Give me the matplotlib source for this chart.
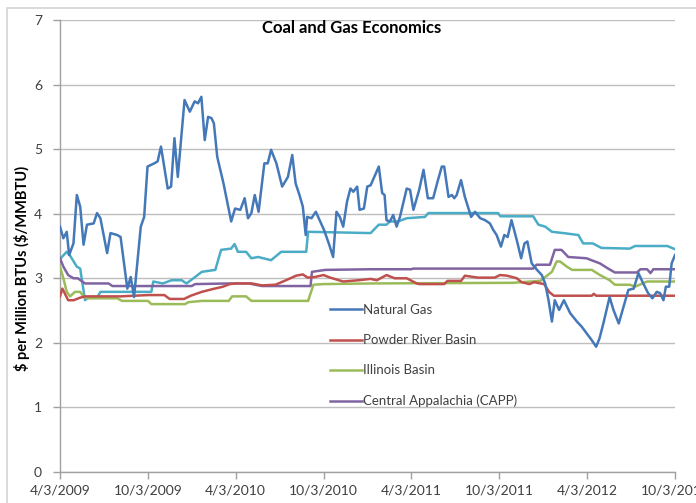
import matplotlib
matplotlib.use("Agg")
import matplotlib.pyplot as plt
import pandas as pd
from matplotlib.patches import Rectangle
from matplotlib.lines import Line2D

# ---------------- data ----------------
ng_dates = ["2009-04-03", "2009-04-10", "2009-04-17", "2009-04-22", "2009-05-01", "2009-05-08",
            "2009-05-15", "2009-05-22", "2009-05-29", "2009-06-12", "2009-06-19", "2009-06-26",
            "2009-07-10", "2009-07-17", "2009-07-31", "2009-08-07", "2009-08-21", "2009-08-28",
            "2009-09-04", "2009-09-18", "2009-09-25", "2009-10-02", "2009-10-16", "2009-10-23",
            "2009-10-30", "2009-11-13", "2009-11-20", "2009-11-27", "2009-12-04", "2009-12-18",
            "2009-12-29", "2010-01-08", "2010-01-15", "2010-01-22", "2010-01-29", "2010-02-05",
            "2010-02-12", "2010-02-17", "2010-02-24", "2010-03-09", "2010-03-25", "2010-04-02",
            "2010-04-13", "2010-04-22", "2010-04-29", "2010-05-06", "2010-05-13", "2010-05-21",
            "2010-06-02", "2010-06-09", "2010-06-16", "2010-06-27", "2010-07-09", "2010-07-21",
            "2010-07-30", "2010-08-06", "2010-08-14", "2010-08-21", "2010-08-27", "2010-08-30",
            "2010-09-08", "2010-09-17", "2010-10-04", "2010-10-14", "2010-10-23", "2010-10-30",
            "2010-11-06", "2010-11-13", "2010-11-21", "2010-11-28", "2010-12-04", "2010-12-12",
            "2010-12-17", "2010-12-26", "2011-01-02", "2011-01-09", "2011-01-26", "2011-02-02",
            "2011-02-07", "2011-02-11", "2011-02-18", "2011-02-25", "2011-03-04", "2011-03-11",
            "2011-03-25", "2011-04-01", "2011-04-08", "2011-04-20", "2011-04-29", "2011-05-08",
            "2011-05-19", "2011-05-29", "2011-06-06", "2011-06-11", "2011-06-20", "2011-06-27",
            "2011-07-02", "2011-07-07", "2011-07-16", "2011-07-24", "2011-08-06", "2011-08-14",
            "2011-08-25", "2011-09-04", "2011-09-14", "2011-09-21", "2011-09-28", "2011-10-07",
            "2011-10-14", "2011-10-21", "2011-10-29", "2011-11-09", "2011-11-18", "2011-11-25",
            "2011-12-01", "2011-12-10", "2011-12-21", "2011-12-31", "2012-01-07", "2012-01-14",
            "2012-01-21", "2012-01-27", "2012-02-05", "2012-02-15", "2012-02-28", "2012-03-13",
            "2012-03-23", "2012-04-02", "2012-04-13", "2012-04-22", "2012-04-29", "2012-05-07",
            "2012-05-20", "2012-05-28", "2012-06-08", "2012-06-18", "2012-06-28", "2012-07-09",
            "2012-07-19", "2012-07-27", "2012-08-08", "2012-08-17", "2012-08-26", "2012-09-02",
            "2012-09-09", "2012-09-14", "2012-09-21", "2012-09-26", "2012-10-03"]
ng_vals = [3.80, 3.62, 3.72, 3.36, 3.54, 4.29,
           4.11, 3.52, 3.83, 3.85, 4.01, 3.93,
           3.39, 3.70, 3.67, 3.64, 2.84, 3.02,
           2.71, 3.80, 3.95, 4.73, 4.78, 4.81,
           5.04, 4.39, 4.42, 5.17, 4.57, 5.76,
           5.58, 5.74, 5.71, 5.81, 5.14, 5.50,
           5.48, 5.40, 4.88, 4.47, 3.88, 4.08,
           4.06, 4.24, 3.93, 4.01, 4.29, 4.03,
           4.78, 4.78, 4.99, 4.78, 4.42, 4.57,
           4.91, 4.47, 4.29, 4.11, 3.67, 3.95,
           3.93, 4.03, 3.75, 3.54, 3.33, 4.03,
           3.95, 3.80, 4.19, 4.39, 4.34, 4.42,
           4.06, 4.08, 4.42, 4.44, 4.73, 4.32,
           4.29, 3.90, 3.88, 3.98, 3.80, 3.95,
           4.39, 4.37, 4.06, 4.37, 4.68, 4.24,
           4.24, 4.52, 4.73, 4.73, 4.26, 4.29,
           4.24, 4.29, 4.52, 4.26, 3.95, 4.03,
           3.93, 3.90, 3.85, 3.75, 3.67, 3.49,
           3.67, 3.64, 3.90, 3.59, 3.31, 3.54,
           3.57, 3.23, 3.13, 3.05, 2.92, 2.66,
           2.33, 2.66, 2.51, 2.66, 2.46, 2.33,
           2.25, 2.15, 2.04, 1.94, 2.07, 2.30,
           2.71, 2.51, 2.30, 2.56, 2.82, 2.84,
           3.08, 2.95, 2.77, 2.69, 2.79, 2.77,
           2.66, 2.87, 2.87, 3.23, 3.36]

prb_dates = ["2009-04-03", "2009-04-08", "2009-04-20", "2009-05-01", "2009-05-15", "2009-05-25",
             "2009-08-07", "2009-10-03", "2009-11-06", "2009-11-17", "2009-12-17", "2009-12-31",
             "2010-01-23", "2010-02-13", "2010-03-08", "2010-03-22", "2010-04-04", "2010-05-07",
             "2010-05-28", "2010-06-25", "2010-07-17", "2010-08-07", "2010-08-21", "2010-08-31",
             "2010-09-15", "2010-10-03", "2010-10-17", "2010-11-13", "2010-12-15", "2011-01-09",
             "2011-01-22", "2011-02-11", "2011-02-28", "2011-03-25", "2011-04-15", "2011-04-20",
             "2011-06-11", "2011-06-18", "2011-07-16", "2011-07-24", "2011-08-20", "2011-09-24",
             "2011-10-05", "2011-10-20", "2011-11-09", "2011-11-19", "2011-12-05", "2011-12-15",
             "2012-01-05", "2012-01-15", "2012-01-25", "2012-04-13", "2012-04-17", "2012-04-22",
             "2012-10-03"]
prb_vals = [2.72, 2.84, 2.66, 2.66, 2.70, 2.72,
            2.72, 2.74, 2.74, 2.68, 2.68, 2.73,
            2.79, 2.83, 2.87, 2.91, 2.92, 2.92,
            2.89, 2.90, 2.97, 3.04, 3.06, 3.01,
            3.02, 3.05, 3.01, 2.95, 2.97, 2.99,
            2.97, 3.05, 3.00, 3.00, 2.92, 2.91,
            2.91, 2.96, 2.96, 3.04, 3.01, 3.01,
            3.05, 3.04, 3.00, 2.94, 2.91, 2.94,
            2.91, 2.79, 2.73, 2.73, 2.76, 2.73,
            2.73]

ib_dates = ["2009-04-03", "2009-04-10", "2009-04-17", "2009-04-24", "2009-05-04", "2009-05-15",
            "2009-05-22", "2009-05-29", "2009-07-31", "2009-08-10", "2009-10-03", "2009-10-10",
            "2009-12-19", "2009-12-26", "2010-01-23", "2010-03-20", "2010-03-27", "2010-04-25",
            "2010-05-06", "2010-09-01", "2010-09-12", "2010-10-03", "2011-01-09", "2011-11-01",
            "2011-12-28", "2012-01-21", "2012-01-31", "2012-02-07", "2012-02-21", "2012-03-03",
            "2012-04-13", "2012-04-30", "2012-05-20", "2012-05-31", "2012-07-01", "2012-07-12",
            "2012-08-06", "2012-10-03"]
ib_vals = [3.18, 3.00, 2.79, 2.72, 2.79, 2.79,
           2.72, 2.69, 2.69, 2.65, 2.65, 2.60,
           2.60, 2.63, 2.65, 2.65, 2.72, 2.72,
           2.65, 2.65, 2.90, 2.91, 2.92, 2.93,
           2.96, 3.10, 3.26, 3.26, 3.18, 3.13,
           3.13, 3.05, 2.97, 2.90, 2.90, 2.87,
           2.95, 2.95]

capp_dates = ["2009-04-03", "2009-04-10", "2009-04-20", "2009-05-01", "2009-05-10", "2009-05-25",
              "2009-07-13", "2009-07-21", "2010-01-02", "2010-01-09", "2010-03-20", "2010-05-01",
              "2010-05-28", "2010-09-06", "2010-09-09", "2010-10-07", "2011-01-09", "2011-04-04",
              "2011-04-07", "2011-12-13", "2011-12-20", "2012-01-17", "2012-01-27", "2012-02-10",
              "2012-02-24", "2012-04-02", "2012-04-30", "2012-05-17", "2012-05-31", "2012-07-16",
              "2012-07-23", "2012-08-06", "2012-08-13", "2012-08-19", "2012-10-03"]
capp_vals = [3.31, 3.18, 3.05, 3.00, 3.00, 2.92,
             2.92, 2.88, 2.88, 2.91, 2.92, 2.92,
             2.88, 2.88, 3.10, 3.13, 3.14, 3.14,
             3.15, 3.15, 3.21, 3.21, 3.44, 3.44,
             3.33, 3.31, 3.23, 3.15, 3.09, 3.09,
             3.14, 3.14, 3.08, 3.14, 3.14]

napp_dates = ["2009-04-03", "2009-04-17", "2009-04-24", "2009-05-08", "2009-05-15", "2009-05-25",
              "2009-06-01", "2009-06-20", "2009-06-26", "2009-10-10", "2009-10-14", "2009-11-03",
              "2009-11-21", "2009-12-12", "2009-12-22", "2010-01-09", "2010-01-23", "2010-02-20",
              "2010-03-04", "2010-03-25", "2010-04-01", "2010-04-08", "2010-04-25", "2010-05-06",
              "2010-05-20", "2010-06-16", "2010-07-07", "2010-08-28", "2010-09-01", "2011-01-09",
              "2011-01-26", "2011-02-11", "2011-02-18", "2011-03-07", "2011-03-25", "2011-05-02",
              "2011-05-09", "2011-10-01", "2011-10-06", "2011-12-13", "2011-12-24", "2012-01-07",
              "2012-01-21", "2012-02-14", "2012-03-16", "2012-03-26", "2012-04-15", "2012-05-03",
              "2012-07-01", "2012-07-12", "2012-09-17", "2012-10-03"]
napp_vals = [3.30, 3.41, 3.35, 3.18, 3.15, 2.66,
             2.71, 2.71, 2.79, 2.79, 2.95, 2.92,
             2.97, 2.97, 2.92, 3.02, 3.10, 3.13,
             3.44, 3.46, 3.53, 3.41, 3.41, 3.31,
             3.33, 3.28, 3.41, 3.41, 3.72, 3.70,
             3.83, 3.83, 3.88, 3.88, 3.93, 3.95,
             4.01, 4.01, 3.96, 3.96, 3.83, 3.80,
             3.72, 3.70, 3.67, 3.54, 3.54, 3.47,
             3.46, 3.50, 3.50, 3.45]

tick_dates = ["2009-04-03", "2009-10-03", "2010-04-03", "2010-10-03",
              "2011-04-03", "2011-10-03", "2012-04-03", "2012-10-03"]
tick_labels = ["4/3/2009", "10/3/2009", "4/3/2010", "10/3/2010",
               "4/3/2011", "10/3/2011", "4/3/2012", "10/3/2012"]
y_ticks = [0, 1, 2, 3, 4, 5, 6, 7]

title = "Coal and Gas Economics"
y_label = "$ per Million BTUs ($/MMBTU)"
legend_labels = ["Natural Gas", "Powder River Basin", "Illinois Basin", "Central Appalachia (CAPP)"]

# ---------------- plot ----------------
plt.rcParams["font.family"] = ["Lato", "DejaVu Sans"]
plt.rcParams["text.parse_math"] = False

W, H = 696, 503
fig = plt.figure(figsize=(W / 100, H / 100), dpi=100)
fig.patch.set_facecolor("white")

# chart-area frame (light gray)
fig.patches.append(Rectangle((7 / W, -0.05), 1.05, 1 - 8 / H + 0.05,
                             transform=fig.transFigure, fill=False,
                             edgecolor="#D4D4D4", linewidth=1.2, zorder=0))

ax = fig.add_axes([60 / W, 31 / H, 615 / W, 452 / H])

lw = 1.8
c_ng, c_prb, c_ib, c_capp, c_napp = "#4478B8", "#C0504D", "#9BBB59", "#8064A2", "#4BACC6"
ax.plot(pd.to_datetime(napp_dates), napp_vals, color=c_napp, lw=lw, zorder=3)
ax.plot(pd.to_datetime(capp_dates), capp_vals, color=c_capp, lw=lw, zorder=3)
ax.plot(pd.to_datetime(ib_dates), ib_vals, color=c_ib, lw=lw, zorder=3)
ax.plot(pd.to_datetime(prb_dates), prb_vals, color=c_prb, lw=lw, zorder=3)
ax.plot(pd.to_datetime(ng_dates), ng_vals, color=c_ng, lw=lw, zorder=4)

ax.set_xlim(pd.Timestamp(tick_dates[0]), pd.Timestamp(tick_dates[-1]))
ax.set_ylim(0, 7)
ax.set_yticks(y_ticks)
ax.set_xticks(pd.to_datetime(tick_dates))
ax.set_xticklabels(tick_labels)

ax.grid(axis="y", color="#BEBEBE", linewidth=1.0, zorder=0)
ax.set_axisbelow(True)
for s in ["top", "right"]:
    ax.spines[s].set_visible(False)
for s in ["left", "bottom"]:
    ax.spines[s].set_color("#A0A0A0")
    ax.spines[s].set_linewidth(1.0)

ax.tick_params(axis="both", colors="#A0A0A0", labelcolor="#404040",
               labelsize=10, length=5, width=1)
ax.tick_params(axis="x", pad=4)
ax.tick_params(axis="y", pad=8)

fig.text(352 / W, 1 - 28 / H, title, ha="center", va="center",
         fontsize=12, fontweight="bold", color="#000000")
fig.text(22 / W, 1 - 268 / H, y_label, ha="center", va="center",
         rotation=90, fontsize=10.5, fontweight="bold", color="#000000")

handles = [Line2D([], [], color=c, lw=lw) for c in (c_ng, c_prb, c_ib, c_capp)]
leg = ax.legend(handles, legend_labels, loc="upper left",
                bbox_to_anchor=(330 / W, 1 - 304 / H), bbox_transform=fig.transFigure,
                frameon=False, fontsize=9.5, handlelength=2.4, handletextpad=0.1,
                labelspacing=1.38, borderpad=0, borderaxespad=0)
for t in leg.get_texts():
    t.set_color("#404040")

fig.savefig("out.png", dpi=100)
